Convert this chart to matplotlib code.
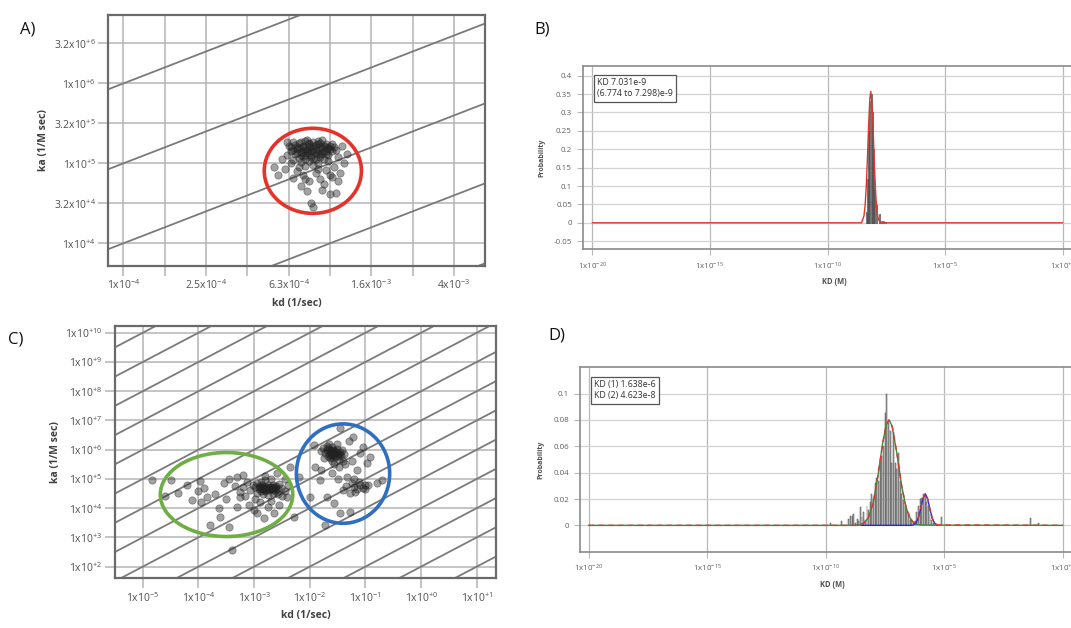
import numpy as np
import matplotlib.pyplot as plt
from matplotlib.patches import Ellipse

plt.rcParams['font.family'] = ['Open Sans', 'DejaVu Sans']
plt.rcParams['mathtext.default'] = 'regular'

# ---------------- DATA ----------------
# panel A: log10(kd), log10(ka) of each fit
a_pts = [
    (-3.20, 5.22), (-3.18, 5.27), (-3.15, 5.25), (-3.12, 5.28), (-3.10, 5.24), (-3.08, 5.27), (-3.05, 5.26),
    (-3.02, 5.24), (-3.00, 5.22), (-2.98, 5.20), (-3.19, 5.15), (-3.16, 5.18), (-3.13, 5.20), (-3.11, 5.17),
    (-3.09, 5.20), (-3.07, 5.18), (-3.04, 5.19), (-3.02, 5.16), (-2.99, 5.15), (-3.21, 5.10), (-3.17, 5.12),
    (-3.14, 5.14), (-3.12, 5.11), (-3.10, 5.13), (-3.08, 5.15), (-3.06, 5.12), (-3.04, 5.13), (-3.01, 5.10),
    (-3.15, 5.07), (-3.12, 5.06), (-3.09, 5.08), (-3.07, 5.05), (-3.05, 5.08), (-3.03, 5.06), (-3.18, 5.04),
    (-3.14, 5.02), (-3.10, 5.03), (-3.06, 5.00), (-3.13, 5.22), (-3.07, 5.23), (-3.11, 5.29), (-3.04, 5.29),
    (-3.16, 5.21), (-3.02, 5.20), (-3.09, 5.11), (-3.13, 5.16), (-3.06, 5.16), (-3.00, 5.18), (-2.97, 5.17),
    (-3.23, 5.05), (-3.19, 5.00), (-3.08, 4.98), (-3.12, 4.97), (-3.01, 5.03), (-2.96, 5.08),
    (-3.17, 5.23), (-3.14, 5.27), (-3.10, 5.26), (-3.06, 5.24), (-3.03, 5.22), (-3.15, 5.19), (-3.12, 5.18),
    (-3.08, 5.22), (-3.05, 5.21), (-3.01, 5.19), (-3.18, 5.17), (-3.11, 5.14), (-3.07, 5.13), (-3.03, 5.15),
    (-3.14, 5.10), (-3.09, 5.16), (-3.05, 5.10), (-3.16, 5.13), (-3.02, 5.12), (-3.10, 5.20), (-2.99, 5.24),
    (-3.19, 5.20), (-3.06, 5.28), (-3.13, 5.09), (-3.08, 5.06),
    (-3.25, 4.85), (-3.21, 5.27), (-2.93, 5.00), (-3.09, 4.51), (-3.00, 4.62), (-2.97, 4.63), (-3.04, 4.67),
    (-3.11, 4.65), (-3.16, 4.90), (-3.13, 4.85), (-3.07, 4.88), (-3.02, 4.92), (-2.98, 4.95), (-3.05, 4.80),
    (-3.10, 4.78), (-3.18, 4.82), (-2.99, 4.83), (-3.14, 4.72), (-3.03, 4.74), (-2.95, 4.88), (-3.22, 4.93),
    (-3.27, 4.96), (-2.92, 5.12), (-2.94, 5.22), (-3.06, 4.93), (-3.15, 4.95), (-3.08, 4.45), (-3.00, 4.86),
    (-3.12, 4.80), (-2.96, 4.78),
]

# panel C: two populations
c_green_pts = [
    (-3.02, 4.80), (-2.98, 4.72), (-2.95, 4.85), (-2.92, 4.66), (-2.90, 4.76), (-2.88, 4.60), (-2.86, 4.70),
    (-2.84, 4.64), (-2.82, 4.74), (-2.80, 4.58), (-2.78, 4.68), (-2.76, 4.78), (-2.74, 4.62), (-2.72, 4.72),
    (-2.70, 4.66), (-2.67, 4.80), (-2.64, 4.70), (-2.62, 4.60), (-2.60, 4.75), (-2.57, 4.66), (-2.55, 4.84),
    (-2.52, 4.70), (-2.88, 4.90), (-2.80, 4.95), (-2.70, 4.98), (-2.94, 4.52), (-2.84, 4.48), (-2.76, 4.45),
    (-2.66, 4.52), (-2.58, 4.50), (-3.08, 4.62), (-3.12, 4.90), (-3.20, 4.72), (-3.25, 4.55), (-3.16, 4.40),
    (-2.98, 4.30), (-2.90, 4.20), (-2.70, 4.25), (-2.50, 4.40), (-2.45, 4.60),
    (-2.86, 4.78), (-2.82, 4.66), (-2.78, 4.72), (-2.74, 4.70), (-2.72, 4.64), (-2.68, 4.74), (-2.84, 4.70),
    (-2.80, 4.62), (-2.76, 4.68), (-2.70, 4.70), (-2.66, 4.66), (-2.62, 4.72), (-2.88, 4.68), (-2.92, 4.74),
    (-2.60, 4.62),
    (-4.84, 4.96), (-4.36, 4.51), (-3.97, 4.94), (-3.79, 3.42), (-3.61, 3.71), (-3.46, 3.37), (-3.40, 2.57),
    (-3.64, 4.00), (-4.12, 4.28), (-3.85, 4.39), (-3.31, 5.08), (-3.25, 4.39), (-3.01, 3.94), (-2.83, 3.65),
    (-2.65, 3.82), (-2.41, 4.39), (-2.59, 5.19), (-2.35, 5.42), (-2.20, 5.08), (-2.29, 3.71), (-4.00, 4.60),
    (-4.20, 4.80), (-3.90, 4.70), (-3.70, 4.50), (-3.55, 4.85), (-3.50, 4.30), (-3.35, 4.75), (-3.45, 5.00),
    (-4.50, 4.95), (-4.60, 4.40), (-3.95, 4.20), (-3.30, 4.05), (-3.10, 4.10), (-2.95, 3.85), (-2.75, 4.05),
    (-2.55, 4.10), (-3.20, 5.15), (-2.80, 5.10), (-2.45, 5.00), (-2.40, 4.80),
]
c_blue_pts = [
    (-1.80, 5.95), (-1.76, 6.05), (-1.72, 5.88), (-1.70, 6.12), (-1.68, 5.78), (-1.66, 5.98), (-1.64, 5.70),
    (-1.62, 5.90), (-1.60, 6.08), (-1.58, 5.82), (-1.56, 5.95), (-1.54, 5.74), (-1.52, 6.02), (-1.50, 5.86),
    (-1.48, 5.66), (-1.46, 5.92), (-1.44, 5.78), (-1.42, 6.00), (-1.40, 5.60), (-1.38, 5.84), (-1.60, 5.60),
    (-1.66, 6.20), (-1.52, 6.18), (-1.36, 5.50), (-1.74, 5.70), (-1.56, 5.50), (-1.48, 5.42), (-1.62, 5.76),
    (-1.58, 5.98), (-1.54, 5.88),
    (-1.70, 5.98), (-1.66, 5.90), (-1.62, 6.00), (-1.58, 5.92), (-1.54, 5.96), (-1.50, 5.80), (-1.64, 5.84),
    (-1.60, 5.86), (-1.56, 5.78), (-1.68, 6.04), (-1.52, 5.90), (-1.46, 5.84),
    (-1.45, 6.73), (-1.22, 6.44), (-1.93, 6.16), (-1.04, 6.10), (-0.98, 5.53), (-1.01, 4.79), (-0.80, 4.85),
    (-1.28, 4.51), (-1.40, 4.62), (-1.57, 4.17), (-1.45, 3.82), (-1.28, 3.88), (-1.69, 4.39), (-1.16, 5.31),
    (-0.71, 4.96), (-0.92, 5.76), (-1.81, 4.96), (-1.99, 4.39), (-1.90, 5.42), (-1.34, 5.08), (-1.72, 3.42),
    (-1.30, 6.30), (-1.10, 5.90), (-1.25, 5.60), (-1.60, 5.20), (-1.80, 5.30), (-1.50, 5.00), (-1.20, 5.00),
    (-1.20, 4.72), (-1.15, 4.65), (-1.10, 4.80), (-1.05, 4.70), (-1.25, 4.85), (-1.18, 4.55), (-1.00, 4.65),
    (-0.95, 4.78), (-1.35, 4.75), (-1.12, 4.90),
]

# iso-affinity lines (KD = kd / ka)
a_kd_lines = [1e-10, 1e-9, 1e-8, 1e-7, 1e-6]
c_kd_lines = [1e-15, 1e-14, 1e-13, 1e-12, 1e-11, 1e-10, 1e-9, 1e-8, 1e-7, 1e-6, 1e-5, 1e-4, 1e-3, 1e-2, 1e-1]

# panel B: histogram of log10(KD) and fitted curve
b_bar_logkd = [-8.35, -8.30, -8.25, -8.20, -8.15, -8.10, -8.05, -8.00, -7.93, -7.79, -7.70, -7.62, -7.55]
b_bar_prob = [0.03, 0.12, 0.25, 0.33, 0.35, 0.30, 0.20, 0.09, 0.048, 0.025, 0.006, 0.004, 0.002]
b_fit_logkd = [-20, -8.55, -8.45, -8.40, -8.35, -8.30, -8.25, -8.20, -8.16, -8.10, -8.05, -8.00, -7.95,
               -7.90, -7.85, -7.80, -7.75, 0]
b_fit_prob = [0, 0, 0.019, 0.048, 0.102, 0.181, 0.27, 0.338, 0.357, 0.315, 0.235, 0.147, 0.077,
              0.034, 0.013, 0.005, 0, 0]

# panel D: histogram and two-component fit
d_bar_logkd = [-9.78, -9.34, -9.02, -8.95, -8.88, -8.81, -8.74, -8.67, -8.61, -8.54, -8.47, -8.40, -8.33,
               -8.26, -8.19, -8.12, -8.05, -7.98, -7.91, -7.84, -7.77, -7.70, -7.63, -7.56, -7.49, -7.42,
               -7.35, -7.28, -7.21, -7.14, -7.07, -7.00, -6.93, -6.86, -6.79, -6.72, -6.65, -6.58, -6.51,
               -6.44, -6.37, -6.30, -6.23, -6.16, -6.09, -6.02, -5.95, -5.88, -5.81, -5.74, -5.67, -5.60,
               -5.53, -5.46, -5.12, -1.34, -1.04]
d_bar_prob = [0.002, 0.003, 0.005, 0.007, 0.007, 0.009, 0.002, 0.005, 0.003, 0.014, 0.006, 0.010, 0.004,
              0.015, 0.012, 0.018, 0.024, 0.020, 0.032, 0.036, 0.034, 0.048, 0.053, 0.060, 0.085, 0.100,
              0.078, 0.072, 0.047, 0.071, 0.047, 0.043, 0.055, 0.034, 0.024, 0.019, 0.015, 0.013, 0.009,
              0.004, 0.005, 0.002, 0.003, 0.010, 0.015, 0.020, 0.021, 0.024, 0.023, 0.018, 0.015, 0.009,
              0.004, 0.002, 0.006, 0.0058, 0.0018]
d_comp2_logkd = [-20, -8.6, -8.4, -8.2, -8.0, -7.8, -7.6, -7.45, -7.33, -7.2, -7.0, -6.8, -6.6, -6.4, -6.2,
                 -6.0, 0]
d_comp2_prob = [0, 0, 0.0015, 0.0058, 0.0169, 0.0373, 0.0622, 0.0761, 0.080, 0.0754, 0.0549, 0.0303,
                0.0127, 0.0040, 0.0010, 0.0002, 0]
d_comp1_logkd = [-8.5, -6.4, -6.3, -6.2, -6.1, -6.0, -5.9, -5.8, -5.7, -5.6, -5.5, -5.4, -5.3]
d_comp1_prob = [0, 0, 0.0003, 0.0015, 0.0051, 0.012, 0.0202, 0.024, 0.0202, 0.012, 0.0051, 0.0015, 0.0003]
d_total_logkd = [-20, -8.6, -8.4, -8.2, -8.0, -7.8, -7.6, -7.45, -7.33, -7.2, -7.0, -6.8, -6.6, -6.4, -6.3,
                 -6.2, -6.1, -6.0, -5.9, -5.8, -5.7, -5.6, -5.5, -5.4, -5.3, 0]
d_total_prob = [0, 0, 0.0015, 0.0058, 0.0169, 0.0373, 0.0622, 0.0761, 0.080, 0.0754, 0.0549, 0.0303,
                0.0127, 0.0040, 0.0023, 0.0025, 0.0053, 0.0122, 0.0202, 0.024, 0.0202, 0.012, 0.0051,
                0.0015, 0.0003, 0]

# tick labels
a_xticks = [1e-4, 10**-3.8, 10**-3.6, 10**-3.4, 10**-3.2, 10**-3.0, 10**-2.8, 10**-2.6, 10**-2.4]
a_xlabels = ['1x10$^{-4}$', '', '2.5x10$^{-4}$', '', '6.3x10$^{-4}$', '', '1.6x10$^{-3}$', '', '4x10$^{-3}$']
a_yticks = [1e4, 10**4.5, 1e5, 10**5.5, 1e6, 10**6.5]
a_ylabels = ['1x10$^{+4}$', '3.2x10$^{+4}$', '1x10$^{+5}$', '3.2x10$^{+5}$', '1x10$^{+6}$', '3.2x10$^{+6}$']
c_xticks = [1e-5, 1e-4, 1e-3, 1e-2, 1e-1, 1e0, 1e1]
c_xlabels = ['1x10$^{-5}$', '1x10$^{-4}$', '1x10$^{-3}$', '1x10$^{-2}$', '1x10$^{-1}$', '1x10$^{+0}$',
             '1x10$^{+1}$']
c_yticks = [1e2, 1e3, 1e4, 1e5, 1e6, 1e7, 1e8, 1e9, 1e10]
c_ylabels = ['1x10$^{+%d}$' % n for n in range(2, 11)]
kd_xticks = [-20, -15, -10, -5, 0]
kd_xlabels = ['1x10$^{-20}$', '1x10$^{-15}$', '1x10$^{-10}$', '1x10$^{-5}$', '1x10$^{+0}$']
b_yticks = [-0.05, 0, 0.05, 0.1, 0.15, 0.2, 0.25, 0.3, 0.35, 0.4]
b_ylabels = ['-0.05', '0', '0.05', '0.1', '0.15', '0.2', '0.25', '0.3', '0.35', '0.4']
d_yticks = [0, 0.02, 0.04, 0.06, 0.08, 0.1]
d_ylabels = ['0', '0.02', '0.04', '0.06', '0.08', '0.1']

W, H = 1071, 628


def px(l, t, r, b):
    return [l / W, 1 - b / H, (r - l) / W, (b - t) / H]


fig = plt.figure(figsize=(W / 100, H / 100), dpi=100)


# ---------------- SCATTER PANELS ----------------
def scatter_panel(rect, pts_list, kd_lines, xlim, ylim, xt, xl, yt, yl):
    ax = fig.add_axes(rect)
    ax.set_xscale('log')
    ax.set_yscale('log')
    for kd in kd_lines:
        ax.plot(xlim, [xlim[0] / kd, xlim[1] / kd], color='#7a7a7a', lw=1.3, zorder=1)
    for pts in pts_list:
        arr = np.array(pts)
        ax.scatter(10 ** arr[:, 0], 10 ** arr[:, 1], s=28, color='#222222', alpha=0.42,
                   edgecolors='#222222', linewidths=0.6, zorder=3)
    ax.set_xlim(xlim)
    ax.set_ylim(ylim)
    ax.set_xticks(xt, xl)
    ax.set_yticks(yt, yl)
    ax.minorticks_off()
    ax.grid(True, color='#b4b4b4', lw=1.1, zorder=0)
    ax.set_axisbelow(True)
    ax.tick_params(direction='out', length=7, width=1.1, color='#b4b4b4', labelsize=7.5,
                   labelcolor='#505050', pad=2)
    for s in ax.spines.values():
        s.set_color('#6a6a6a')
        s.set_linewidth(1.6)
    ax.set_xlabel('kd (1/sec)', fontsize=7.5, fontweight='bold', color='#404040', labelpad=4)
    ax.set_ylabel('ka (1/M sec)', fontsize=7.5, fontweight='bold', color='#404040', labelpad=3)
    return ax


axA = scatter_panel(px(108.3, 14.7, 485, 265.7), [a_pts], a_kd_lines,
                    (10 ** -4.073, 10 ** -2.25), (10 ** 3.72, 10 ** 6.86),
                    a_xticks, a_xlabels, a_yticks, a_ylabels)
axA.add_patch(Ellipse((0.543, 0.378), 0.258, 0.339, transform=axA.transAxes, fill=False,
                      ec='#e5322a', lw=2.6, zorder=5))

axC = scatter_panel(px(115, 326, 495.7, 578.3), [c_green_pts, c_blue_pts], c_kd_lines,
                    (10 ** -5.5, 10 ** 1.34), (10 ** 1.6, 10 ** 10.23),
                    c_xticks, c_xlabels, c_yticks, c_ylabels)
axC.add_patch(Ellipse((0.293, 0.332), 0.348, 0.333, transform=axC.transAxes, fill=False,
                      ec='#6fad45', lw=2.6, zorder=5))
axC.add_patch(Ellipse((0.599, 0.415), 0.245, 0.394, transform=axC.transAxes, fill=False,
                      ec='#2f6ec0', lw=2.6, zorder=5))


# ---------------- HISTOGRAM PANELS ----------------
def kd_panel(rect, xlim, ylim, yt, yl):
    ax = fig.add_axes(rect)
    ax.set_xlim(xlim)
    ax.set_ylim(ylim)
    ax.set_xticks(kd_xticks, kd_xlabels)
    ax.set_yticks(yt, yl)
    ax.grid(True, axis='y', color='#d2d2d2', lw=0.9, zorder=0)
    ax.grid(True, axis='x', color='#b8b8b8', lw=0.9, zorder=0)
    ax.set_axisbelow(True)
    ax.tick_params(direction='out', length=4, width=0.8, color='#b8b8b8', labelsize=5.8,
                   labelcolor='#606060', pad=4)
    for s in ax.spines.values():
        s.set_color('#8a8a8a')
        s.set_linewidth(1.2)
    ax.set_xlabel('KD (M)', fontsize=5.5, fontweight='bold', color='#505050', labelpad=4)
    ax.set_ylabel('Probability', fontsize=5, fontweight='bold', color='#505050', labelpad=6)
    return ax


axB = kd_panel(px(583, 65.7, 1085, 249.3), (-20.40, 0.95), (-0.072, 0.427), b_yticks, b_ylabels)
axB.bar(b_bar_logkd, b_bar_prob, width=0.045, color='#a8a8a8', edgecolor='#2a2a2a', lw=0.4, zorder=2)
axB.plot(b_fit_logkd, b_fit_prob, color='#e0342c', lw=1.0, zorder=3)
fig.text(597 / W, 1 - 78 / H, 'KD 7.031e-9\n(6.774 to 7.298)e-9', ha='left', va='top', fontsize=6.3,
         color='#303030', linespacing=1.35,
         bbox=dict(boxstyle='square,pad=0.35', fc='white', ec='#555555', lw=0.9))

axD = kd_panel(px(580, 367.3, 1085, 551.7), (-20.37, 0.94), (-0.02, 0.12), d_yticks, d_ylabels)
axD.bar(d_bar_logkd, d_bar_prob, width=0.04, color='#b4b4b4', edgecolor='#4a4a4a', lw=0.35, zorder=2)
axD.plot(d_comp2_logkd, d_comp2_prob, color='#3f8a3a', lw=1.0, zorder=3)
axD.plot(d_comp1_logkd, d_comp1_prob, color='#2a2ad8', lw=1.0, zorder=3)
axD.plot(d_total_logkd, d_total_prob, color='#e0342c', lw=1.0, ls=(0, (4, 3)), zorder=4)
fig.text(594 / W, 1 - 380 / H, 'KD (1) 1.638e-6\nKD (2) 4.623e-8', ha='left', va='top', fontsize=6.3,
         color='#303030', linespacing=1.35,
         bbox=dict(boxstyle='square,pad=0.35', fc='white', ec='#555555', lw=0.9))

# ---------------- PANEL LETTERS ----------------
for lab, x, y in [('A)', 20, 30), ('B)', 534, 30), ('C)', 8, 339), ('D)', 548, 336)]:
    fig.text(x / W, 1 - y / H, lab, fontsize=12, ha='left', va='center', color='#111111')

fig.savefig('out.png', dpi=100, facecolor='white')
